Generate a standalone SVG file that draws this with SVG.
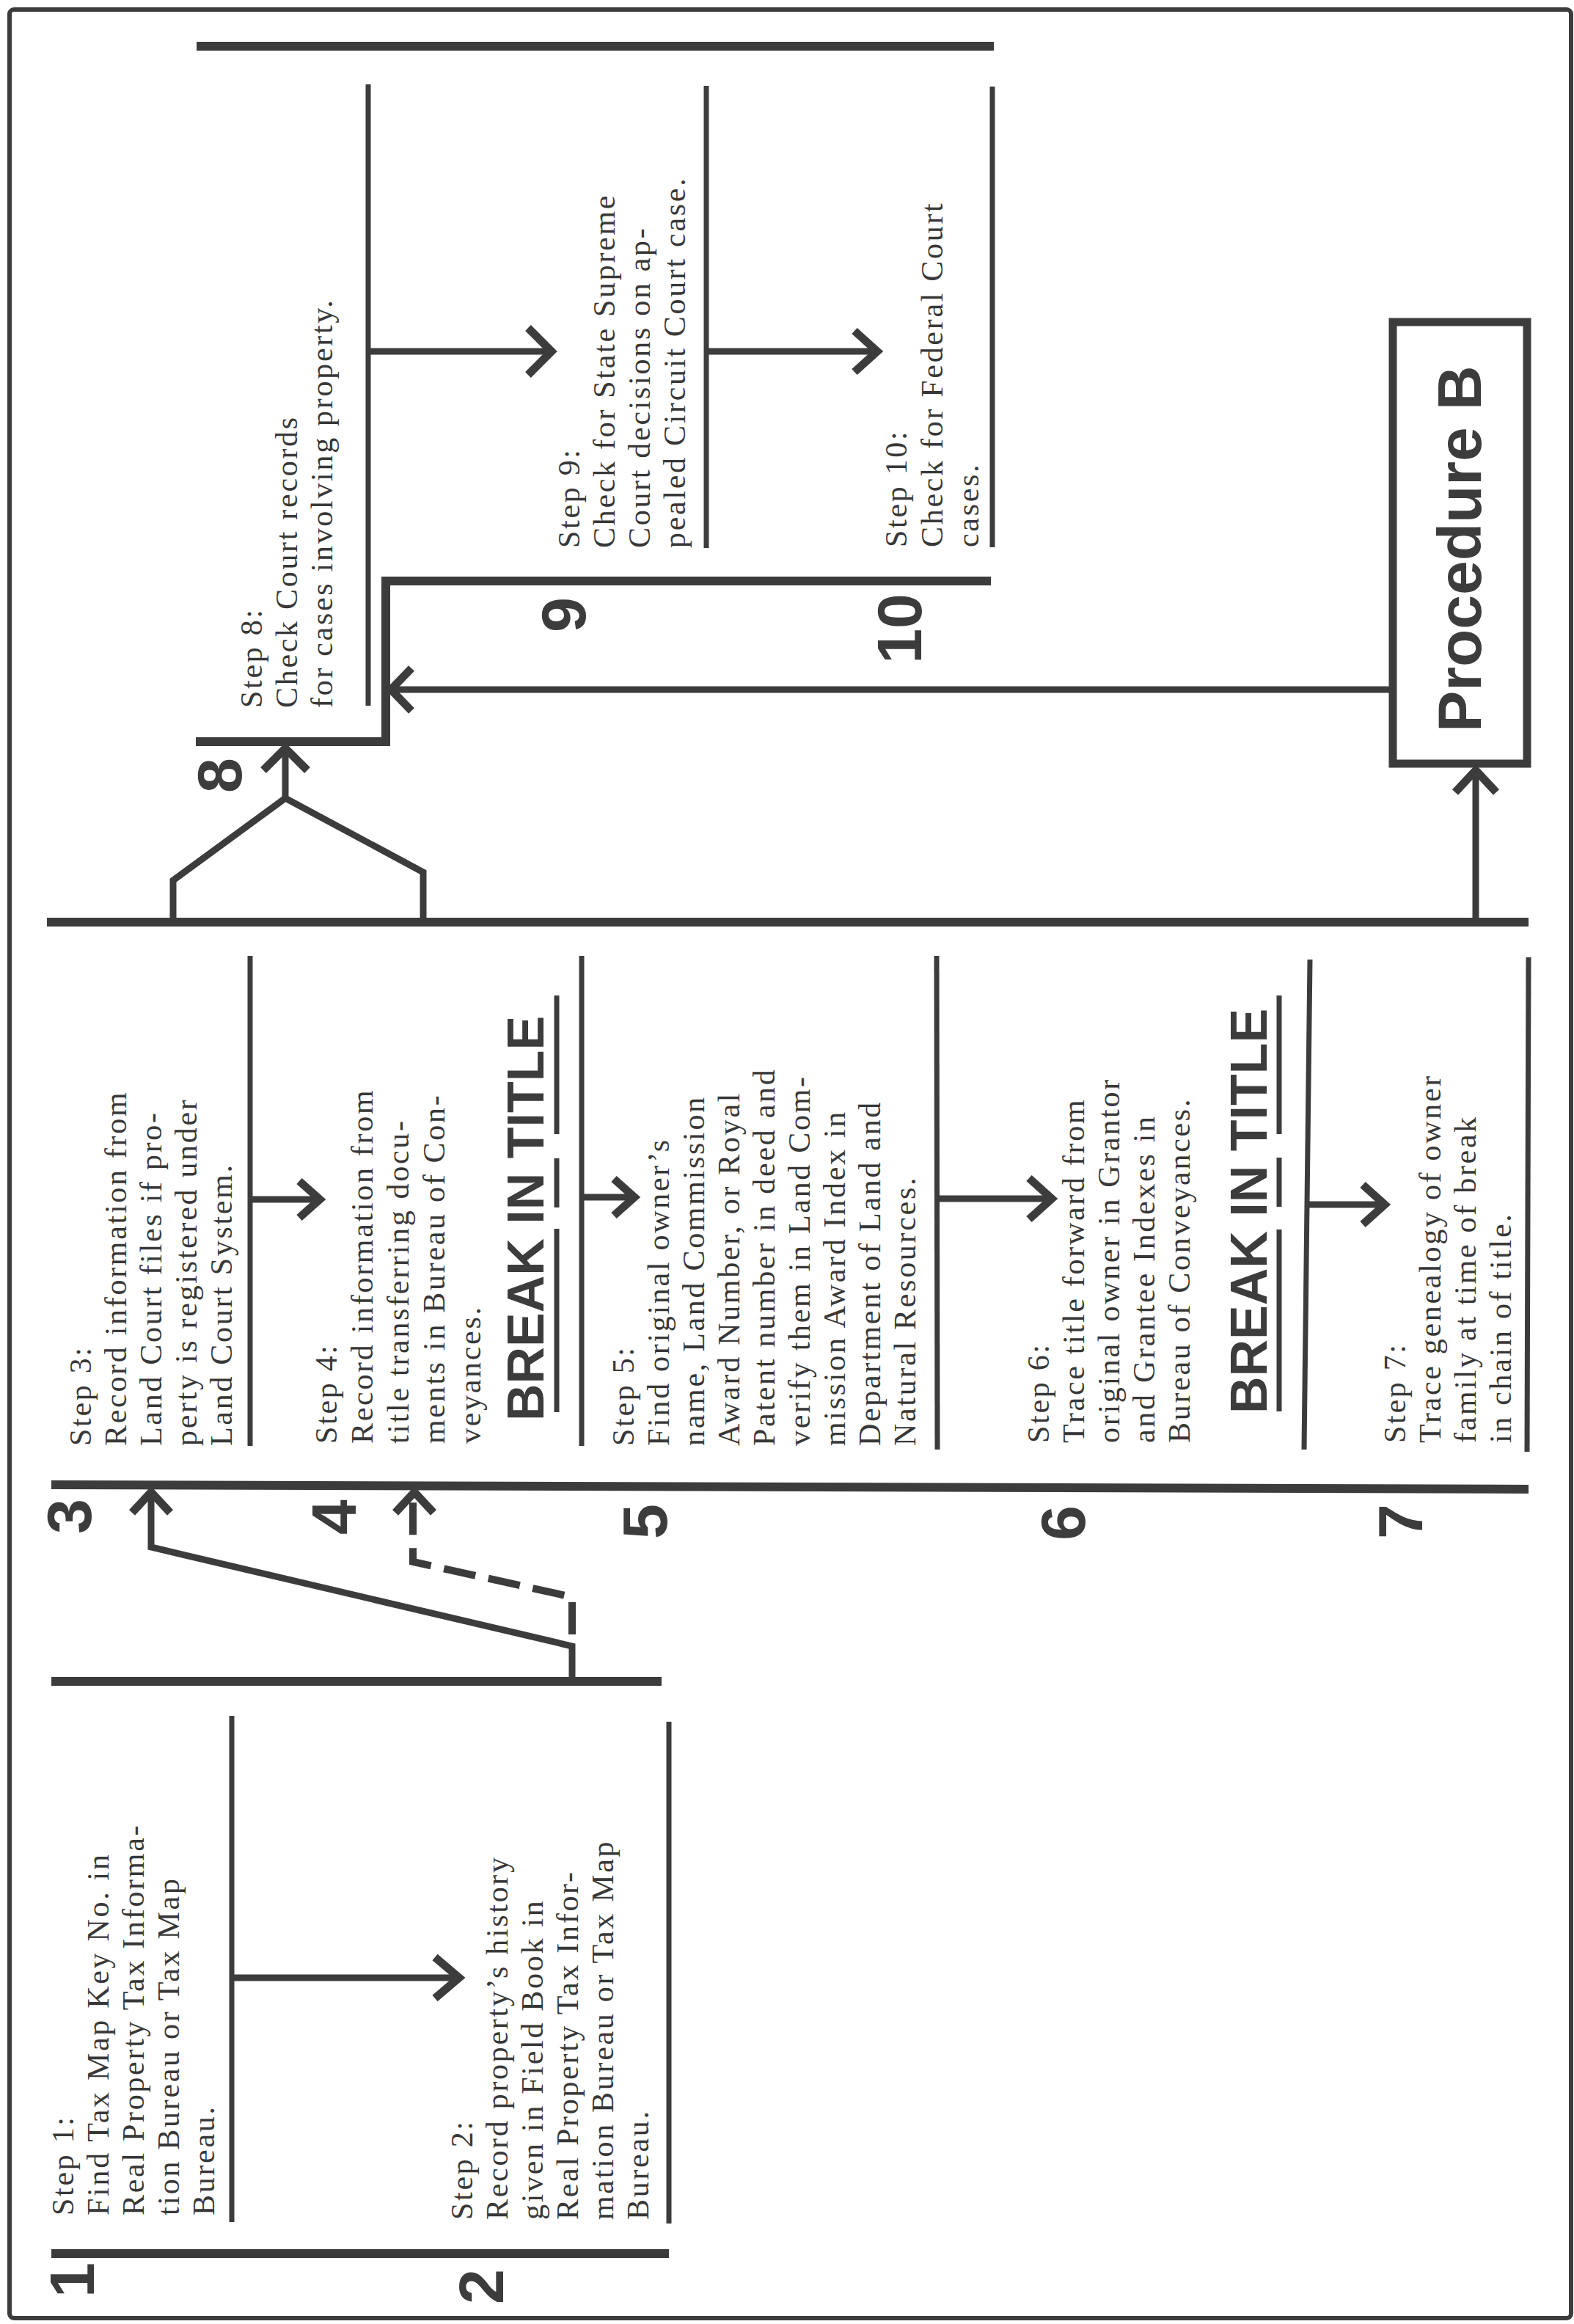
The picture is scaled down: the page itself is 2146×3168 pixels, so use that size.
<svg xmlns="http://www.w3.org/2000/svg" width="2146" height="3168" viewBox="0 0 2146 3168">
<style>
  .t { font-family: "Liberation Serif", "Times New Roman", serif; font-size: 42px; letter-spacing: 2.7px; fill: #383838; }
  .num { font-family: "Liberation Sans", Arial, sans-serif; font-weight: bold; font-size: 86px; fill: #3c3c3c; }
  .brk { font-family: "Liberation Sans", Arial, sans-serif; font-weight: bold; font-size: 70px; fill: #3c3c3c; }
  .proc { font-family: "Liberation Sans", Arial, sans-serif; font-weight: bold; font-size: 84px; fill: #3c3c3c; }
  .bar { stroke: #3c3c3c; stroke-width: 12; fill: none; }
  .div { stroke: #3c3c3c; stroke-width: 7; fill: none; }
  .ln { stroke: #3c3c3c; stroke-width: 9; fill: none; stroke-linejoin: miter; }
  .chev { stroke: #3c3c3c; stroke-width: 11; fill: none; stroke-linejoin: miter; }
  .dash { stroke: #3c3c3c; stroke-width: 10; fill: none; stroke-dasharray: 44 18; }
  .ul { stroke: #3c3c3c; stroke-width: 7; }
</style>
<rect x="13" y="13" width="2129" height="3147" rx="6" fill="#ffffff" stroke="#3c3c3c" stroke-width="6"/>

<g id="frame">
  <line class="bar" x1="268" y1="63" x2="1355" y2="63"/>
  <line class="bar" x1="64" y1="1257" x2="2084" y2="1257"/>
  <line class="bar" x1="70" y1="2024" x2="2084" y2="2030"/>
  <line class="bar" x1="70" y1="2292" x2="902" y2="2292"/>
  <line class="bar" x1="70" y1="3072" x2="912" y2="3072"/>
</g>

<g id="step1">
  <line class="div" x1="316" y1="2339" x2="316" y2="3029"/>
  <text class="num" transform="translate(128,3108) rotate(-90)" text-anchor="middle">1</text>
  <text class="t" transform="translate(100,3020) rotate(-90)"><tspan x="0" y="0">Step 1:</tspan><tspan x="0" dy="48">Find Tax Map Key No. in</tspan><tspan x="0" dy="48">Real Property Tax Informa-</tspan><tspan x="0" dy="48">tion Bureau or Tax Map</tspan><tspan x="0" dy="48">Bureau.</tspan></text>
</g>

<g id="step2">
  <line class="div" x1="912" y1="2347" x2="912" y2="3031"/>
  <text class="num" transform="translate(686,3117) rotate(-90)" text-anchor="middle">2</text>
  <text class="t" transform="translate(644,3026) rotate(-90)"><tspan x="0" y="0">Step 2:</tspan><tspan x="0" dy="48">Record property’s history</tspan><tspan x="0" dy="48">given in Field Book in</tspan><tspan x="0" dy="48">Real Property Tax Infor-</tspan><tspan x="0" dy="48">mation Bureau or Tax Map</tspan><tspan x="0" dy="48">Bureau.</tspan></text>
</g>

<g id="step3">
  <line class="div" x1="341" y1="1303" x2="341" y2="1971"/>
  <text class="num" transform="translate(124,2067) rotate(-90)" text-anchor="middle">3</text>
  <text class="t" transform="translate(124,1971) rotate(-90)"><tspan x="0" y="0">Step 3:</tspan><tspan x="0" dy="48">Record information from</tspan><tspan x="0" dy="48">Land Court files if pro-</tspan><tspan x="0" dy="48">perty is registered under</tspan><tspan x="0" dy="48">Land Court System.</tspan></text>
</g>

<g id="step4">
  <line class="div" x1="793" y1="1303" x2="793" y2="1971"/>
  <text class="num" transform="translate(485,2068) rotate(-90)" text-anchor="middle">4</text>
  <text class="t" transform="translate(459,1968) rotate(-90)"><tspan x="0" y="0">Step 4:</tspan><tspan x="0" dy="49">Record information from</tspan><tspan x="0" dy="49">title transferring docu-</tspan><tspan x="0" dy="49">ments in Bureau of Con-</tspan><tspan x="0" dy="49">veyances.</tspan></text>
</g>

<g id="break1">
  <text class="brk" transform="translate(741,1937) rotate(-90)">BREAK IN TITLE</text>
  <line class="ul" x1="759" y1="1925" x2="759" y2="1675"/>
  <line class="ul" x1="759" y1="1646" x2="759" y2="1579"/>
  <line class="ul" x1="759" y1="1546" x2="759" y2="1357"/>
</g>

<g id="step5">
  <line class="div" x1="1277" y1="1303" x2="1278" y2="1976"/>
  <text class="num" transform="translate(909,2074) rotate(-90)" text-anchor="middle">5</text>
  <text class="t" transform="translate(864,1971) rotate(-90)"><tspan x="0" y="0">Step 5:</tspan><tspan x="0" dy="48">Find original owner’s</tspan><tspan x="0" dy="48">name, Land Commission</tspan><tspan x="0" dy="48">Award Number, or Royal</tspan><tspan x="0" dy="48">Patent number in deed and</tspan><tspan x="0" dy="48">verify them in Land Com-</tspan><tspan x="0" dy="48">mission Award Index in</tspan><tspan x="0" dy="48">Department of Land and</tspan><tspan x="0" dy="48">Natural Resources.</tspan></text>
</g>

<g id="step6">
  <line class="div" x1="1786" y1="1308" x2="1778" y2="1976"/>
  <text class="num" transform="translate(1479,2076) rotate(-90)" text-anchor="middle">6</text>
  <text class="t" transform="translate(1430,1967) rotate(-90)"><tspan x="0" y="0">Step 6:</tspan><tspan x="0" dy="48">Trace title forward from</tspan><tspan x="0" dy="48">original owner in Grantor</tspan><tspan x="0" dy="48">and Grantee Indexes in</tspan><tspan x="0" dy="48">Bureau of Conveyances.</tspan></text>
</g>

<g id="break2">
  <text class="brk" transform="translate(1727,1927) rotate(-90)">BREAK IN TITLE</text>
  <line class="ul" x1="1744" y1="1924" x2="1744" y2="1676"/>
  <line class="ul" x1="1744" y1="1645" x2="1744" y2="1578"/>
  <line class="ul" x1="1744" y1="1546" x2="1744" y2="1357"/>
</g>

<g id="step7">
  <line class="div" x1="2084" y1="1305" x2="2082" y2="1979"/>
  <text class="num" transform="translate(1939,2074) rotate(-90)" text-anchor="middle">7</text>
  <text class="t" transform="translate(1916,1967) rotate(-90)"><tspan x="0" y="0">Step 7:</tspan><tspan x="0" dy="48">Trace genealogy of owner</tspan><tspan x="0" dy="48">family at time of break</tspan><tspan x="0" dy="48">in chain of title.</tspan></text>
</g>

<g id="step8">
  <line class="div" x1="502" y1="115" x2="502" y2="962"/>
  <text class="num" transform="translate(329,1057) rotate(-90)" text-anchor="middle">8</text>
  <text class="t" transform="translate(357,965) rotate(-90)"><tspan x="0" y="0">Step 8:</tspan><tspan x="0" dy="48">Check Court records</tspan><tspan x="0" dy="48">for cases involving property.</tspan></text>
</g>

<g id="step9">
  <line class="div" x1="963" y1="117" x2="963" y2="747"/>
  <text class="num" transform="translate(798,838) rotate(-90)" text-anchor="middle">9</text>
  <text class="t" transform="translate(790,747) rotate(-90)"><tspan x="0" y="0">Step 9:</tspan><tspan x="0" dy="48">Check for State Supreme</tspan><tspan x="0" dy="48">Court decisions on ap-</tspan><tspan x="0" dy="48">pealed Circuit Court case.</tspan></text>
</g>

<g id="step10">
  <line class="div" x1="1353" y1="118" x2="1353" y2="746"/>
  <text class="num" transform="translate(1256,857) rotate(-90)" text-anchor="middle">10</text>
  <text class="t" transform="translate(1236,746) rotate(-90)"><tspan x="0" y="0">Step 10:</tspan><tspan x="0" dy="49">Check for Federal Court</tspan><tspan x="0" dy="49">cases.</tspan></text>
</g>

<g id="procedureB">
  <rect x="1899" y="439" width="183" height="602" fill="none" stroke="#3c3c3c" stroke-width="11"/>
  <text class="proc" transform="translate(2019,748) rotate(-90)" text-anchor="middle">Procedure B</text>
</g>

<g id="connectors">
  <line class="ln" x1="316" y1="2696" x2="624" y2="2696"/>
  <polyline class="chev" points="593,2668 626,2696 593,2724"/>
  <polyline class="ln" points="780,2292 780,2244 206,2109 206,2036"/>
  <polyline class="chev" points="180,2062 206,2034 232,2062"/>
  <polyline class="dash" points="780,2228 780,2177 563,2129 563,2040"/>
  <polyline class="chev" points="539,2062 565,2034 591,2062"/>
  <line class="ln" x1="341" y1="1635" x2="434" y2="1635"/>
  <polyline class="chev" points="408,1610 436,1635 408,1660"/>
  <line class="ln" x1="793" y1="1632" x2="863" y2="1632"/>
  <polyline class="chev" points="837,1607 865,1632 837,1657"/>
  <line class="ln" x1="1277" y1="1634" x2="1432" y2="1634"/>
  <polyline class="chev" points="1403,1606 1434,1634 1403,1662"/>
  <line class="ln" x1="1782" y1="1642" x2="1886" y2="1642"/>
  <polyline class="chev" points="1858,1615 1888,1642 1858,1669"/>
  <polyline class="ln" points="236,1252 236,1200 389,1088 577,1189 577,1252"/>
  <line class="ln" x1="389" y1="1088" x2="389" y2="1022"/>
  <polyline class="chev" points="359,1050 389,1020 419,1050"/>
  <polyline class="bar" points="267,1011 526,1011 526,792 1351,792"/>
  <line class="ln" x1="502" y1="479" x2="750" y2="479"/>
  <polyline class="chev" points="720,447 752,479 720,511"/>
  <line class="ln" x1="963" y1="479" x2="1194" y2="479"/>
  <polyline class="chev" points="1165,451 1196,479 1165,507"/>
  <line class="ln" x1="2012" y1="1253" x2="2012" y2="1050"/>
  <polyline class="chev" points="1984,1080 2012,1050 2040,1080"/>
  <line class="ln" x1="1899" y1="940" x2="534" y2="940"/>
  <polyline class="chev" points="561,911 533,940 561,969"/>
</g>
</svg>
